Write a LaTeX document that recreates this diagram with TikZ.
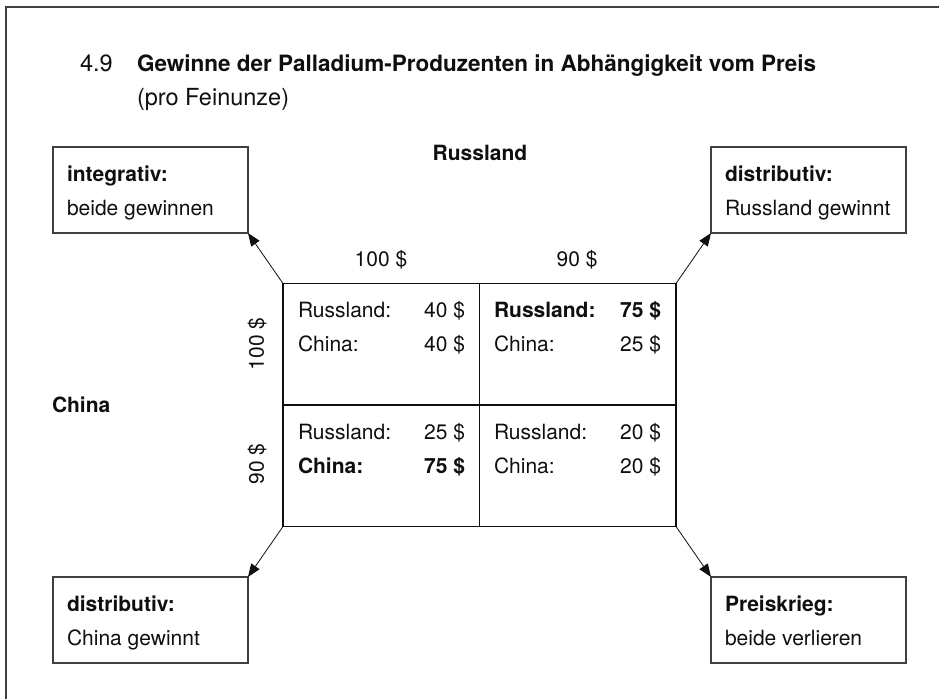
\documentclass[tikz,border=0pt]{standalone}
\usepackage{fontspec}
\setmainfont{TeX Gyre Heros}
\usetikzlibrary{arrows.meta}
\definecolor{ink}{gray}{0.06}
\definecolor{rule}{gray}{0.25}
\begin{document}
\begin{tikzpicture}[x=1pt,y=-1pt,
  every node/.style={inner sep=0pt, outer sep=0pt, text=ink},
  txt/.style={font=\fontsize{21}{24}\selectfont},
  bold/.style={font=\fontsize{21}{24}\selectfont\bfseries},
  ttl/.style={font=\fontsize{23.5}{26}\selectfont},
  ttlbold/.style={font=\fontsize{22.5}{26}\selectfont\bfseries},
  outbox/.style={draw=rule, line width=1.1pt, minimum width=195pt, minimum height=86pt},
  cell/.style={draw=ink, line width=1.3pt, minimum width=196.5pt, minimum height=121.5pt},
  link/.style={-{Triangle[length=13pt,width=10pt]}, line width=0.8pt, draw=ink}]
\useasboundingbox (0,0) rectangle (939,699);

% open frame
\draw[rule, line width=1.2pt] (6,699) -- (6,7) -- (939,7);

% heading
\node[ttl, anchor=base west] (num) at (80,71) {4.9};
\node[ttlbold, anchor=base west] (head) at (137,71)
  {Gewinne der Palladium-Produzenten in Abhängigkeit vom Preis};
\node[ttl, anchor=base west] (sub) at (137,105) {(pro Feinunze)};

% payoff matrix
\node[cell] (c11) at (381.25,344.25) {};
\node[cell] (c12) at (577.75,344.25) {};
\node[cell] (c21) at (381.25,465.75) {};
\node[cell] (c22) at (577.75,465.75) {};

% player and price labels
\node[bold] (ru) at (480,153) {Russland};
\node[bold, anchor=west] (cn) at (52,405) {China};
\node[txt] (p1) at (381,260) {100 \$};
\node[txt] (p2) at (577,260) {90 \$};
\node[txt, rotate=90] (q1) at (257,344) {100 \$};
\node[txt, rotate=90] (q2) at (257,464) {90 \$};

% cell contents
\node[txt, anchor=base west] (a1) at (298,317) {Russland:};
\node[txt, anchor=base east] (a2) at (465,317) {40 \$};
\node[txt, anchor=base west] (a3) at (298,351) {China:};
\node[txt, anchor=base east] (a4) at (465,351) {40 \$};

\node[bold, anchor=base west] (b1) at (494,317) {Russland:};
\node[bold, anchor=base east] (b2) at (661,317) {75 \$};
\node[txt, anchor=base west] (b3) at (494,351) {China:};
\node[txt, anchor=base east] (b4) at (661,351) {25 \$};

\node[txt, anchor=base west] (d1) at (298,439) {Russland:};
\node[txt, anchor=base east] (d2) at (465,439) {25 \$};
\node[bold, anchor=base west] (d3) at (298,473) {China:};
\node[bold, anchor=base east] (d4) at (465,473) {75 \$};

\node[txt, anchor=base west] (e1) at (494,439) {Russland:};
\node[txt, anchor=base east] (e2) at (661,439) {20 \$};
\node[txt, anchor=base west] (e3) at (494,473) {China:};
\node[txt, anchor=base east] (e4) at (661,473) {20 \$};

% outcome boxes
\node[outbox] (intg) at (150.5,190) {};
\node[outbox] (dru)  at (808.5,190) {};
\node[outbox] (dcn)  at (150.5,620) {};
\node[outbox] (war)  at (808.5,620) {};

\node[bold, anchor=base west] at ([xshift=14pt,yshift=-34pt]intg.north west) {integrativ:};
\node[txt,  anchor=base west] at ([xshift=14pt,yshift=-68pt]intg.north west) {beide gewinnen};
\node[bold, anchor=base west] at ([xshift=14pt,yshift=-34pt]dru.north west) {distributiv:};
\node[txt,  anchor=base west] at ([xshift=14pt,yshift=-68pt]dru.north west) {Russland gewinnt};
\node[bold, anchor=base west] at ([xshift=14pt,yshift=-34pt]dcn.north west) {distributiv:};
\node[txt,  anchor=base west] at ([xshift=14pt,yshift=-68pt]dcn.north west) {China gewinnt};
\node[bold, anchor=base west] at ([xshift=14pt,yshift=-34pt]war.north west) {Preiskrieg:};
\node[txt,  anchor=base west] at ([xshift=14pt,yshift=-68pt]war.north west) {beide verlieren};

% connectors from the matrix corners
\draw[link] (c11.north west) -- (intg.south east);
\draw[link] (c12.north east) -- (dru.south west);
\draw[link] (c21.south west) -- (dcn.north east);
\draw[link] (c22.south east) -- (war.north west);
\end{tikzpicture}
\end{document}
